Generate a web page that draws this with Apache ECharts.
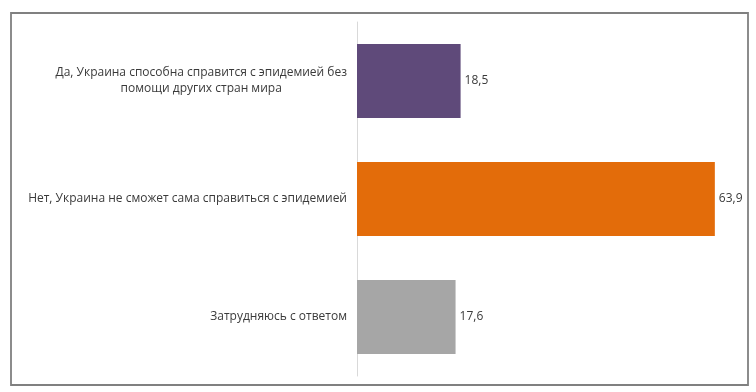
<!DOCTYPE html>
<html><head><meta charset="utf-8">
<script src="https://cdn.jsdelivr.net/npm/echarts@6/dist/echarts.min.js"></script>
<style>html,body{margin:0;padding:0;background:#fff}#c{width:756px;height:392px}</style>
</head><body><div id="c"></div>
<script>
const categories = [
  'Да, Украина способна справится с эпидемией без помощи других стран мира',
  'Нет, Украина не сможет сама справиться с эпидемией',
  'Затрудняюсь с ответом'
];
const values = [18.5, 63.9, 17.6];
const barColors = ['#5F4A7A', '#E36C0A', '#A6A6A6'];

function wrapLabel(s) {
  if (s.length <= 52) return '{c|' + s + '}';
  const idx = s.lastIndexOf(' ', 47);
  return '{c|' + s.slice(0, idx) + '}\n{c|' + s.slice(idx + 1) + '}';
}

const chart = echarts.init(document.getElementById('c'));
chart.setOption({
  animation: false,
  textStyle: { fontFamily: 'Open Sans' },
  graphic: [{
    type: 'rect',
    shape: { x: 11, y: 13, width: 737, height: 372 },
    style: { fill: 'none', stroke: '#808080', lineWidth: 1.8 },
    z: -1
  }],
  grid: { left: 357, right: 7, top: 22, bottom: 16, containLabel: false },
  xAxis: {
    type: 'value', min: 0, max: 70, show: false,
    splitLine: { show: false }
  },
  yAxis: {
    type: 'category', data: categories, inverse: true,
    axisLine: { show: true, lineStyle: { color: '#D9D9D9', width: 1 } },
    axisTick: { show: false },
    axisLabel: {
      margin: 10, color: '#3A3A3A', fontSize: 12, lineHeight: 16,
      formatter: wrapLabel,
      rich: { c: { align: 'center', color: '#3A3A3A', fontSize: 12, lineHeight: 16, fontFamily: 'Open Sans' } }
    }
  },
  series: [{
    type: 'bar',
    data: values.map((v, i) => ({ value: v, itemStyle: { color: barColors[i] } })),
    barWidth: 74,
    label: {
      show: true, position: 'right', distance: 4,
      color: '#3A3A3A', fontSize: 12, fontFamily: 'Open Sans',
      formatter: p => String(p.value).replace('.', ',')
    }
  }]
});
</script></body></html>
